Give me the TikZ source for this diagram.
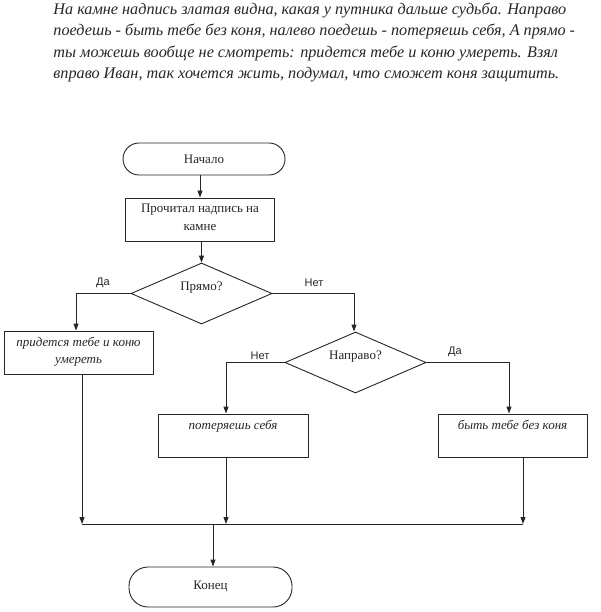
\documentclass[tikz,border=0pt]{standalone}
\usepackage{fontspec}
\setmainfont{Liberation Serif}
\newfontfamily\lsans{Liberation Sans}
\usetikzlibrary{shapes.geometric,arrows.meta}
\begin{document}
\begin{tikzpicture}[x=1pt,y=-1pt, line width=0.9pt, color=black!85,
  term/.style={draw, rounded corners=16pt, minimum width=163pt, minimum height=33pt, inner sep=0pt, font=\fontsize{13}{15}\selectfont},
  pbox/.style={draw, minimum width=149pt, minimum height=43pt, inner sep=0pt},
  btext/.style={anchor=north, yshift=-6pt, align=center, font=\fontsize{13}{17.5}\selectfont, inner sep=0pt},
  ibtext/.style={btext, font=\fontsize{13}{17.5}\selectfont\itshape},
  dec/.style={draw, diamond, aspect=2.3, minimum width=141pt, minimum height=61pt, inner sep=0pt},
  dtext/.style={anchor=center, yshift=6pt, font=\fontsize{13}{15}\selectfont, inner sep=0pt},
  lab/.style={font=\lsans\fontsize{11}{13}\selectfont, inner sep=0pt},
  arr/.style={-{Triangle[length=7pt,width=5pt]}}
]
\useasboundingbox (0,0) rectangle (600,612);

\node[anchor=north west, inner sep=0pt, align=left,
      font=\fontsize{16.2}{21.5}\selectfont\itshape] (para) at (53,2)
 {На камне надпись златая видна, какая у путника дальше судьба. Направо\\
  поедешь - быть тебе без коня, налево поедешь - потеряешь себя, А прямо -\\
  ты можешь вообще не смотреть: придется тебе и коню умереть. Взял\\
  вправо Иван, так хочется жить, подумал, что сможет коня защитить.};

\node[term, minimum width=162pt, minimum height=32pt] (start) at (204,159) {Начало};
\node[pbox, label={[btext]north:Прочитал надпись на\\камне}] (read) at (200,219.5) {};
\node[dec, label={[dtext]center:Прямо?}] (d1) at (201.5,293.5) {};
\node[pbox, label={[ibtext]north:придется тебе и коню\\умереть}] (b1) at (78.5,352.5) {};
\node[dec, label={[dtext]center:Направо?}] (d2) at (355.5,362.5) {};
\node[pbox, minimum width=150pt, label={[ibtext]north:потеряешь себя}] (b2) at (233,435.5) {};
\node[pbox, label={[ibtext]north:быть тебе без коня}] (b3) at (512.5,435.5) {};
\node[term, minimum height=40pt, rounded corners=19pt] (end) at (210.5,587) {\raisebox{3pt}{Конец}};

\node[lab] (lda1) at (103,283) {Да};
\node[lab] (lnet1) at (314,283) {Нет};
\node[lab] (lnet2) at (260,356) {Нет};
\node[lab] (lda2) at (455,352) {Да};

\coordinate (j1) at (82,524);
\coordinate (j2) at (226,524);
\coordinate (j0) at (213,524);
\coordinate (j3) at (523,524);

\draw[arr] (start.south -| read.north) -- (read.north);
\draw[arr] (read.south -| d1.north) -- (d1.north);
\draw[arr] (d1.west) -| ([xshift=-2.5pt]b1.north);
\draw[arr] (d1.east) -| ([xshift=-1.5pt]d2.north);
\draw[arr] (d2.west) -| (j2 |- b2.north);
\draw[arr] (d2.east) -| ([xshift=-3.5pt]b3.north);
\draw[arr] (b1.south -| j1) -- (j1);
\draw[arr] (b2.south -| j2) -- (j2);
\draw[arr] (b3.south -| j3) -- (j3);
\draw (j1) -- (j3);
\draw[arr] (j0) -- (j0 |- end.north);
\end{tikzpicture}
\end{document}
